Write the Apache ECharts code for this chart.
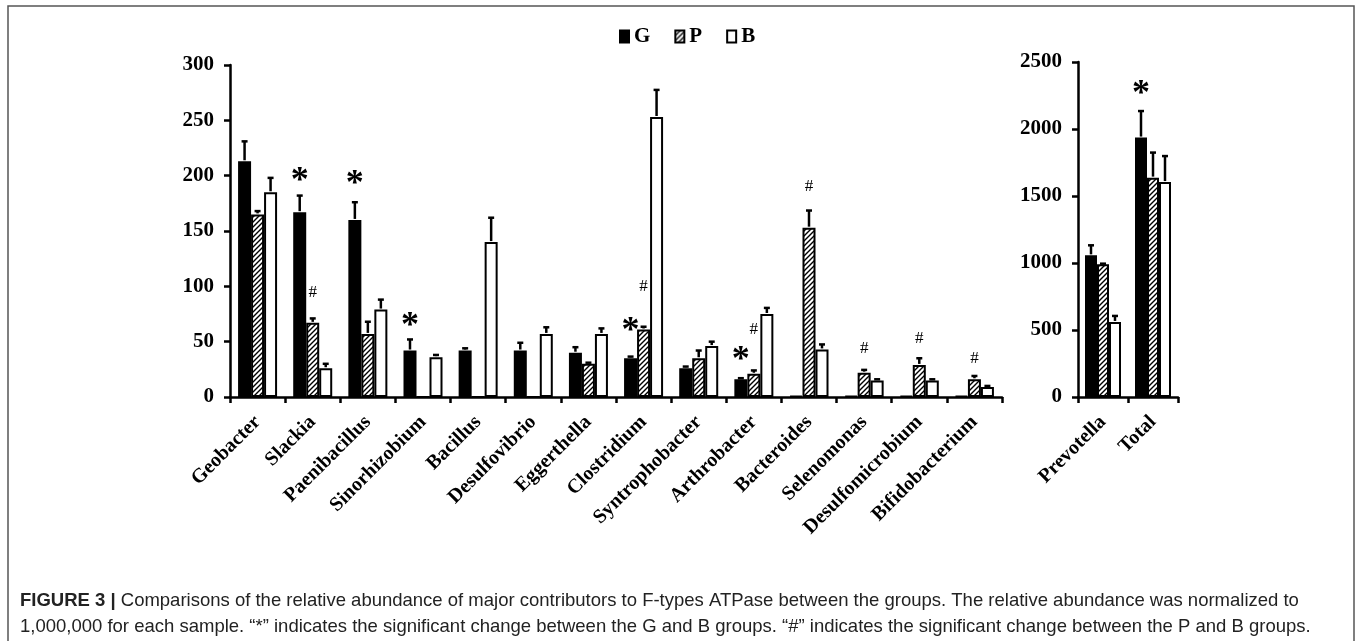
<!DOCTYPE html>
<html><head><meta charset="utf-8">
<script src="https://cdn.jsdelivr.net/npm/echarts@6/dist/echarts.min.js"></script>
<style>html,body{margin:0;padding:0;background:#fff}#c{width:1357px;height:641px}</style>
</head><body><div id="c"></div>
<script>
// ---------- data ----------
const categories = ['Geobacter','Slackia','Paenibacillus','Sinorhizobium','Bacillus','Desulfovibrio','Eggerthella','Clostridium','Syntrophobacter','Arthrobacter','Bacteroides','Selenomonas','Desulfomicrobium','Bifidobacterium'];
const gValues = [213, 167, 160, 42, 42, 42, 40, 35, 26, 16, 1, 1, 1, 1];
const gErrors = [18, 15, 16, 10, 2, 7, 5, 1.5, 1.5, 1, 0, 0, 0, 0];
const pValues = [165, 67, 57, 0, 0, 0, 30, 61, 35, 21, 153, 22, 29, 16];
const pErrors = [3, 4, 11, 0, 0, 0, 1, 2.5, 7, 3, 15.5, 2.5, 6, 3];
const bValues = [185, 26, 79, 36, 140, 57, 57, 253, 46, 75, 43, 15, 15, 9];
const bErrors = [13, 4, 9, 2, 22, 6, 5, 24.5, 4, 5.5, 4.5, 1, 1, 1];
// significance marks: level (in axis units) where the mark sits, null = none
const starLevels = [null, 201, 198, 70, null, null, null, 65, null, 39, null, null, null, null];
const hashLevels = [null, 94, null, null, null, null, null, 100, null, 61, 190, 44, 53, 35];

const totalCategories = ['Prevotella', 'Total'];
const gTotals = [1057, 1936];
const gTotalErrors = [75, 198];
const pTotals = [990, 1637];
const pTotalErrors = [5, 187];
const bTotals = [560, 1604];
const bTotalErrors = [45, 194];
const totalStarLevels = [null, 2311];
const totalHashLevels = [null, null];

const groupNames = ['G', 'P', 'B'];
const leftAxisMax = 300, leftAxisStep = 50;
const rightAxisMax = 2500, rightAxisStep = 500;

const captionLine1 = 'Comparisons of the relative abundance of major contributors to F-types ATPase between the groups. The relative abundance was normalized to';
const captionLine2 = '1,000,000 for each sample. \u201c*\u201d indicates the significant change between the G and B groups. \u201c#\u201d indicates the significant change between the P and B groups.';

// ---------- styles ----------
const SERIF = '"Liberation Serif", "Times New Roman", serif';
const SANS = '"Liberation Sans", Arial, sans-serif';
const BW_LEFT = 13, BW_RIGHT = 12;
const STAR_FONT = 'bold 36px ' + SERIF, STAR_SHIFT = 7;
const HASH_FONT = '17px ' + SERIF, HASH_SHIFT = 0;

function makeHatch() {
  const s = 5;
  const c = document.createElement('canvas');
  c.width = s; c.height = s;
  const ctx = c.getContext('2d');
  ctx.fillStyle = '#fff'; ctx.fillRect(0, 0, s, s);
  ctx.strokeStyle = '#000'; ctx.lineWidth = 1.4;
  ctx.beginPath();
  ctx.moveTo(-1, s + 1); ctx.lineTo(s + 1, -1);
  ctx.moveTo(-1, 1); ctx.lineTo(1, -1);
  ctx.moveTo(s - 1, s + 1); ctx.lineTo(s + 1, s - 1);
  ctx.stroke();
  return c;
}
const hatch = { image: makeHatch(), repeat: 'repeat' };
const fills = ['#000', hatch, '#fff'];

function errData(vals, errs) {
  const out = [];
  vals.forEach((arr, si) => arr.forEach((v, ci) => out.push([ci, si, v, errs[si][ci]])));
  return out;
}
function markData(levels, ch) {
  const out = [];
  levels.forEach((l, ci) => { if (l != null) out.push([ci, l, ch]); });
  return out;
}
function errRender(bw) {
  return function (params, api) {
    const ci = api.value(0), si = api.value(1), v = api.value(2), e = api.value(3);
    if (!e) return null;
    const base = api.coord([ci, v]);
    const top = api.coord([ci, v + e]);
    const x = base[0] + (si - 1) * bw;
    const st = { stroke: '#000', lineWidth: 2.5 };
    return { type: 'group', children: [
      { type: 'line', shape: { x1: x, y1: base[1] - 1, x2: x, y2: top[1] }, style: st },
      { type: 'line', shape: { x1: x - 3, y1: top[1], x2: x + 3, y2: top[1] }, style: st }
    ] };
  };
}
function markRender(bw, si, font, shift) {
  return function (params, api) {
    const p = api.coord([api.value(0), api.value(1)]);
    return { type: 'text', x: p[0] + (si - 1) * bw, y: p[1] + shift,
      style: { text: api.value(2), font: font, fill: '#000', align: 'center', verticalAlign: 'middle' } };
  };
}

const axisLineStyle = { lineStyle: { color: '#000', width: 2.5 } };
const tickStyle = { show: true, length: 6, lineStyle: { color: '#000', width: 2.5 } };

function barSeries(name, data, xi, bw, idx) {
  return {
    name: name, type: 'bar', xAxisIndex: xi, yAxisIndex: xi, data: data,
    barWidth: bw, barGap: '0%',
    itemStyle: { color: fills[idx], borderColor: '#000', borderWidth: 2 },
    emphasis: { disabled: true }, silent: true
  };
}

const series = [
  barSeries('G', gValues, 0, BW_LEFT, 0),
  barSeries('P', pValues, 0, BW_LEFT, 1),
  barSeries('B', bValues, 0, BW_LEFT, 2),
  barSeries('G', gTotals, 1, BW_RIGHT, 0),
  barSeries('P', pTotals, 1, BW_RIGHT, 1),
  barSeries('B', bTotals, 1, BW_RIGHT, 2),
  { type: 'custom', name: 'errL', xAxisIndex: 0, yAxisIndex: 0, z: 5, silent: true,
    data: errData([gValues, pValues, bValues], [gErrors, pErrors, bErrors]),
    encode: { x: 0, y: 2 }, renderItem: errRender(BW_LEFT) },
  { type: 'custom', name: 'errR', xAxisIndex: 1, yAxisIndex: 1, z: 5, silent: true,
    data: errData([gTotals, pTotals, bTotals], [gTotalErrors, pTotalErrors, bTotalErrors]),
    encode: { x: 0, y: 2 }, renderItem: errRender(BW_RIGHT) },
  { type: 'custom', name: 'starL', xAxisIndex: 0, yAxisIndex: 0, z: 6, silent: true,
    data: markData(starLevels, '*'), encode: { x: 0, y: 1 },
    renderItem: markRender(BW_LEFT, 0, STAR_FONT, STAR_SHIFT) },
  { type: 'custom', name: 'hashL', xAxisIndex: 0, yAxisIndex: 0, z: 6, silent: true,
    data: markData(hashLevels, '#'), encode: { x: 0, y: 1 },
    renderItem: markRender(BW_LEFT, 1, HASH_FONT, HASH_SHIFT) },
  { type: 'custom', name: 'starR', xAxisIndex: 1, yAxisIndex: 1, z: 6, silent: true,
    data: markData(totalStarLevels, '*'), encode: { x: 0, y: 1 },
    renderItem: markRender(BW_RIGHT, 0, STAR_FONT, STAR_SHIFT) },
  { type: 'custom', name: 'hashR', xAxisIndex: 1, yAxisIndex: 1, z: 6, silent: true,
    data: markData(totalHashLevels, '#'), encode: { x: 0, y: 1 },
    renderItem: markRender(BW_RIGHT, 1, HASH_FONT, HASH_SHIFT) }
];

function xAxis(gi, cats) {
  return {
    type: 'category', gridIndex: gi, data: cats, boundaryGap: true,
    axisLine: axisLineStyle, axisTick: tickStyle,
    axisLabel: { rotate: 45, margin: 22, color: '#000', fontFamily: SERIF, fontWeight: 'bold', fontSize: 20, interval: 0 }
  };
}
function yAxis(gi, max, step) {
  return {
    type: 'value', gridIndex: gi, min: 0, max: max, interval: step,
    splitLine: { show: false },
    axisLine: Object.assign({ show: true }, axisLineStyle), axisTick: tickStyle,
    axisLabel: { margin: 16, color: '#000', fontFamily: SERIF, fontWeight: 'bold', fontSize: 21,
      formatter: v => String(v) }
  };
}

const option = {
  animation: false,
  backgroundColor: '#fff',
  legend: {
    data: groupNames, left: 614, top: 21, icon: 'rect', itemWidth: 9, itemHeight: 12, itemGap: 24,
    textStyle: { fontFamily: SERIF, fontWeight: 'bold', fontSize: 21, color: '#000' },
    selectedMode: false
  },
  grid: [
    { left: 230, top: 65, width: 772, height: 332 },
    { left: 1078, top: 62, width: 100, height: 335 }
  ],
  xAxis: [xAxis(0, categories), xAxis(1, totalCategories)],
  yAxis: [yAxis(0, leftAxisMax, leftAxisStep), yAxis(1, rightAxisMax, rightAxisStep)],
  series: series,
  graphic: [
    { type: 'rect', shape: { x: 8, y: 6, width: 1346, height: 700 }, style: { fill: 'none', stroke: '#555', lineWidth: 1.5 }, silent: true },
    { type: 'text', x: 20, y: 591, style: {
        text: '{b|FIGURE 3 |} ' + captionLine1,
        font: '18.5px ' + SANS, fill: '#222',
        rich: { b: { fontWeight: 'bold', fontSize: 18.5, fontFamily: SANS, fill: '#222' } } } },
    { type: 'text', x: 20, y: 617, style: { text: captionLine2, font: '18.5px ' + SANS, fill: '#222' } }
  ]
};

const chart = echarts.init(document.getElementById('c'), null, { renderer: 'canvas' });
chart.setOption(option);
</script>
</body></html>
